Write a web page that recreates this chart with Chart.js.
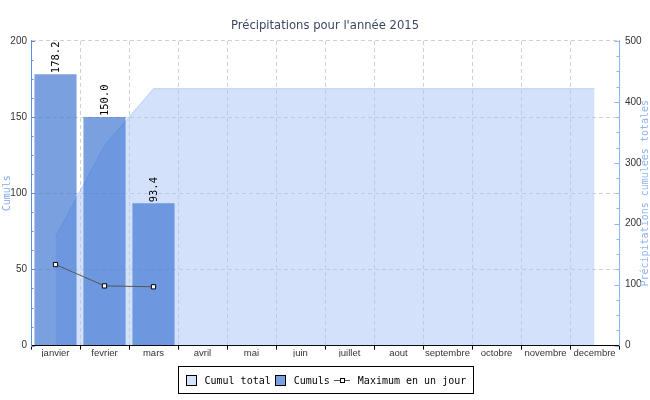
<!DOCTYPE html>
<html>
<head>
<meta charset="utf-8">
<script src="https://cdn.jsdelivr.net/npm/chart.js@4.4.1/dist/chart.umd.min.js"></script>
<style>
  html, body { margin: 0; padding: 0; background: #fff; }
  #contenedor { width: 650px; height: 400px; }
</style>
</head>
<body>
<div id="contenedor"><canvas id="grafico-precipitations"></canvas></div>
<script>
// donnees
const mois = ['janvier', 'fevrier', 'mars', 'avril', 'mai', 'juin', 'juillet', 'aout', 'septembre', 'octobre', 'novembre', 'decembre'];
const cumuls = [178.2, 150.0, 93.4, null, null, null, null, null, null, null, null, null];
const cumulTotal = [178.2, 328.2, 421.6, 421.6, 421.6, 421.6, 421.6, 421.6, 421.6, 421.6, 421.6, 421.6];
const maxJour = [53.2, 39.2, 38.6, null, null, null, null, null, null, null, null, null];
const bornesCumuls = [0, 200];
const bornesTotal = [0, 500];

const couleurAire = 'rgba(168,198,245,0.5)';
const couleurBarre = 'rgba(60,115,210,0.68)';
const bleuAxe = '#5b8ee6';
const bleuClair = '#8fb4f0';
const mono = '"DejaVu Sans Mono", monospace';
const sans = '"Liberation Sans", Arial, sans-serif';

// etiquettes au dessus des barres + petits traits des axes + titre droit + legende
const pluginExtras = {
    id: 'extras',
    afterDatasetsDraw(chart) {
        const ctx = chart.ctx;
        const meta = chart.getDatasetMeta(1);
        ctx.save();
        ctx.fillStyle = '#000';
        ctx.font = '10.5px ' + mono;
        ctx.textAlign = 'left';
        ctx.textBaseline = 'middle';
        meta.data.forEach(function (barre, i) {
            if (cumuls[i] == null) return;
            ctx.save();
            ctx.translate(barre.x + 1, barre.y - 1);
            ctx.rotate(-Math.PI / 2);
            ctx.fillText(cumuls[i].toFixed(1), 0, 0);
            ctx.restore();
        });
        ctx.restore();
    },
    afterDraw(chart) {
        const ctx = chart.ctx;
        const y = chart.scales.y;
        const y1 = chart.scales.y1;
        ctx.save();
        ctx.lineWidth = 1;

        // traits de graduation vers l'interieur
        ctx.strokeStyle = bleuAxe;
        for (let v = bornesCumuls[0]; v <= bornesCumuls[1]; v += 12.5) {
            const py = Math.round(y.getPixelForValue(v)) + 0.5;
            const lg = (v % 50 === 0) ? 4 : 2.5;
            ctx.beginPath();
            ctx.moveTo(y.right, py);
            ctx.lineTo(y.right + lg, py);
            ctx.stroke();
        }
        ctx.strokeStyle = bleuClair;
        for (let v = bornesTotal[0]; v <= bornesTotal[1]; v += 25) {
            const py = Math.round(y1.getPixelForValue(v)) + 0.5;
            const lg = (v % 100 === 0) ? 4.5 : 2.5;
            ctx.beginPath();
            ctx.moveTo(y1.left, py);
            ctx.lineTo(y1.left - lg, py);
            ctx.stroke();
        }

        // titre de l'axe de droite (lu de bas en haut)
        ctx.save();
        ctx.fillStyle = bleuClair;
        ctx.font = '10px ' + mono;
        ctx.textAlign = 'center';
        ctx.textBaseline = 'middle';
        ctx.translate(y1.right - 5, (y1.top + y1.bottom) / 2);
        ctx.rotate(-Math.PI / 2);
        ctx.fillText('Précipitations cumulées totales', 0, 0);
        ctx.restore();

        // legende encadree
        const elements = [
            { texte: 'Cumul total', type: 'boite', fond: couleurAire },
            { texte: 'Cumuls', type: 'boite', fond: couleurBarre },
            { texte: 'Maximum en un jour', type: 'ligne' }
        ];
        ctx.font = '10px ' + mono;
        let total = 0;
        elements.forEach(function (e, i) {
            e.larg = e.type === 'boite' ? 11 : 16;
            e.lt = ctx.measureText(e.texte).width;
            total += e.larg + 8 + e.lt + (i < elements.length - 1 ? 4 : 0);
        });
        const marge = 7;
        const gauche = Math.round((chart.width - total) / 2 - marge) + 0.5;
        const haut = 366.5;
        const hauteur = 27;
        ctx.strokeStyle = '#000';
        ctx.strokeRect(gauche, haut, Math.round(total + 2 * marge), hauteur);
        const cy = haut + hauteur / 2;
        let x = gauche + marge;
        ctx.textAlign = 'left';
        ctx.textBaseline = 'middle';
        elements.forEach(function (e) {
            if (e.type === 'boite') {
                ctx.fillStyle = '#fff';
                ctx.fillRect(Math.round(x), Math.round(cy - 5.5), 11, 11);
                ctx.fillStyle = e.fond;
                ctx.fillRect(Math.round(x), Math.round(cy - 5.5), 11, 11);
                ctx.strokeStyle = '#000';
                ctx.strokeRect(Math.round(x) + 0.5, Math.round(cy - 5.5) + 0.5, 10, 10);
            } else {
                ctx.strokeStyle = '#555';
                ctx.beginPath();
                ctx.moveTo(x, Math.round(cy) + 0.5);
                ctx.lineTo(x + e.larg, Math.round(cy) + 0.5);
                ctx.stroke();
                ctx.fillStyle = '#fff';
                ctx.fillRect(Math.round(x + e.larg / 2 - 2), Math.round(cy) - 2, 4, 4);
                ctx.strokeStyle = '#000';
                ctx.strokeRect(Math.round(x + e.larg / 2 - 2) + 0.5, Math.round(cy) - 1.5, 4, 4);
            }
            x += e.larg + 8;
            ctx.fillStyle = '#000';
            ctx.fillText(e.texte, x, cy + 1);
            x += e.lt + 4;
        });
        ctx.restore();
    }
};

const ctxGrafico = document.getElementById('grafico-precipitations');
const graficoPrecipitations = new Chart(ctxGrafico, {
    type: 'bar',
    data: {
        labels: mois,
        datasets: [{
            type: 'line',
            label: 'Maximum en un jour',
            data: maxJour,
            yAxisID: 'y',
            borderColor: '#555',
            borderWidth: 1,
            pointStyle: 'rect',
            pointRadius: 3,
            pointBackgroundColor: '#fff',
            pointBorderColor: '#000',
            pointBorderWidth: 1,
            tension: 0,
            order: 0
        }, {
            type: 'bar',
            label: 'Cumuls',
            data: cumuls,
            yAxisID: 'y',
            backgroundColor: couleurBarre,
            barPercentage: 0.86,
            categoryPercentage: 1,
            order: 1
        }, {
            type: 'line',
            label: 'Cumul total',
            data: cumulTotal,
            yAxisID: 'y1',
            fill: 'origin',
            backgroundColor: couleurAire,
            borderColor: 'rgba(150,184,240,0.6)',
            borderWidth: 1,
            pointRadius: 0,
            tension: 0,
            order: 2
        }]
    },
    options: {
        responsive: true,
        maintainAspectRatio: false,
        animation: false,
        layout: { padding: { top: 0, right: 0, bottom: 43, left: 0 } },
        plugins: {
            legend: { display: false },
            tooltip: { enabled: false },
            title: {
                display: true,
                text: "Précipitations pour l'année 2015",
                color: '#3b4762',
                font: { family: '"DejaVu Sans", sans-serif', size: 11.6, weight: 'normal' },
                padding: { top: 19, bottom: 8 }
            }
        },
        scales: {
            x: {
                grid: { color: '#d0d0d0', tickColor: '#000', tickLength: 4, offset: true },
                border: { color: '#000', dash: [4, 3] },
                ticks: { color: '#333', font: { family: sans, size: 9.5 }, padding: -2, maxRotation: 0, autoSkip: false }
            },
            y: {
                position: 'left',
                min: bornesCumuls[0],
                max: bornesCumuls[1],
                ticks: { stepSize: 50, color: '#333', font: { family: sans, size: 10 }, padding: 4 },
                grid: { color: '#d0d0d0', drawTicks: false },
                border: { color: bleuAxe, dash: [4, 3] },
                title: { display: true, text: 'Cumuls', color: '#7ea8ee', font: { family: mono, size: 10 }, padding: { top: 1, bottom: 0 } },
                afterFit: function (s) { s.width = 31; }
            },
            y1: {
                position: 'right',
                min: bornesTotal[0],
                max: bornesTotal[1],
                ticks: { stepSize: 100, color: '#333', font: { family: sans, size: 10 }, padding: 6 },
                grid: { drawOnChartArea: false, drawTicks: false },
                border: { color: bleuClair },
                afterFit: function (s) { s.width = 31; }
            }
        }
    },
    plugins: [pluginExtras]
});
</script>
</body>
</html>
